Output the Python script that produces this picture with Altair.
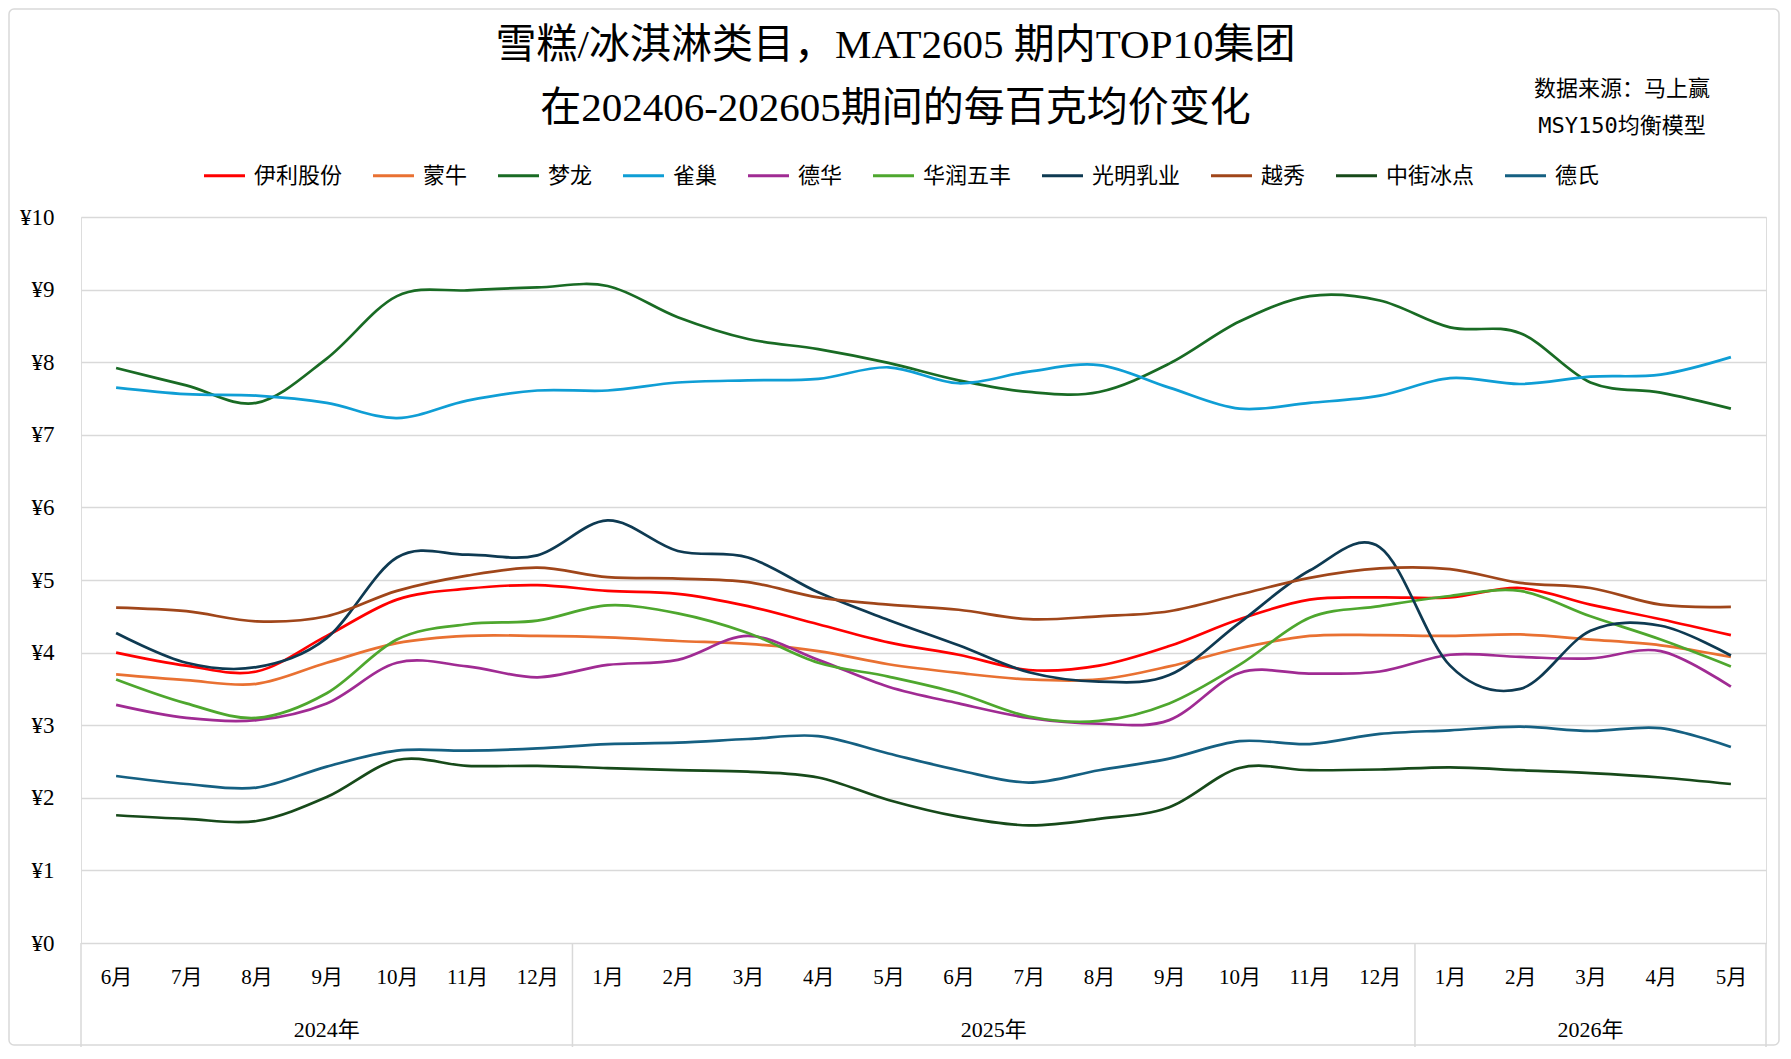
import altair as alt
import pandas as pd

# ---------------- data ----------------
year_names = ["2024年", "2025年", "2026年"]
months_2024 = ["6月", "7月", "8月", "9月", "10月", "11月", "12月"]
months_2025 = ["1月", "2月", "3月", "4月", "5月", "6月", "7月", "8月", "9月", "10月", "11月", "12月"]
months_2026 = ["1月", "2月", "3月", "4月", "5月"]

series_names = ["伊利股份", "蒙牛", "梦龙", "雀巢", "德华", "华润五丰", "光明乳业", "越秀", "中街冰点", "德氏"]
series_colors = ["#FF0000", "#E97132", "#196B24", "#0F9ED5", "#A02B93", "#4EA72E", "#0E3A52", "#A0461A", "#174A1A", "#156082"]

yili = [4.00, 3.82, 3.74, 4.23, 4.73, 4.88, 4.93, 4.85, 4.81, 4.64, 4.39, 4.14, 3.97, 3.76, 3.82, 4.09, 4.46, 4.73, 4.76, 4.76, 4.89, 4.66, 4.46, 4.24]
mengniu = [3.70, 3.62, 3.57, 3.86, 4.13, 4.23, 4.23, 4.21, 4.16, 4.12, 4.02, 3.84, 3.72, 3.63, 3.63, 3.81, 4.06, 4.23, 4.24, 4.23, 4.25, 4.18, 4.10, 3.94]
menglong = [7.92, 7.68, 7.44, 8.05, 8.91, 8.99, 9.03, 9.05, 8.62, 8.32, 8.18, 7.99, 7.75, 7.59, 7.59, 7.98, 8.56, 8.91, 8.85, 8.48, 8.40, 7.72, 7.58, 7.36]
quechao = [7.65, 7.56, 7.54, 7.44, 7.23, 7.47, 7.61, 7.61, 7.72, 7.75, 7.77, 7.93, 7.71, 7.87, 7.96, 7.65, 7.36, 7.44, 7.54, 7.78, 7.70, 7.80, 7.83, 8.07]
dehua = [3.28, 3.10, 3.07, 3.30, 3.86, 3.81, 3.66, 3.83, 3.90, 4.23, 3.90, 3.53, 3.30, 3.10, 3.02, 3.07, 3.72, 3.71, 3.74, 3.97, 3.94, 3.92, 4.02, 3.53]
huarun = [3.63, 3.30, 3.10, 3.44, 4.18, 4.39, 4.44, 4.65, 4.54, 4.27, 3.86, 3.67, 3.44, 3.12, 3.06, 3.30, 3.83, 4.48, 4.64, 4.78, 4.85, 4.50, 4.18, 3.81]
guangming = [4.27, 3.86, 3.80, 4.20, 5.31, 5.35, 5.34, 5.82, 5.40, 5.31, 4.83, 4.45, 4.10, 3.73, 3.60, 3.69, 4.41, 5.13, 5.45, 3.82, 3.50, 4.30, 4.37, 3.96]
yuexiu = [4.62, 4.57, 4.43, 4.50, 4.85, 5.06, 5.17, 5.04, 5.02, 4.97, 4.76, 4.66, 4.59, 4.46, 4.50, 4.57, 4.80, 5.03, 5.16, 5.15, 4.96, 4.89, 4.66, 4.63]
zhongjie = [1.76, 1.71, 1.68, 2.01, 2.52, 2.44, 2.44, 2.41, 2.38, 2.36, 2.28, 1.97, 1.74, 1.62, 1.71, 1.87, 2.41, 2.38, 2.39, 2.42, 2.38, 2.34, 2.28, 2.19]
deshi = [2.30, 2.19, 2.14, 2.43, 2.65, 2.65, 2.68, 2.74, 2.76, 2.81, 2.85, 2.61, 2.38, 2.21, 2.38, 2.54, 2.78, 2.74, 2.88, 2.93, 2.98, 2.92, 2.96, 2.70]

title_lines = ["雪糕/冰淇淋类目，MAT2605 期内TOP10集团", "在202406-202605期间的每百克均价变化"]
source_note = "数据来源：马上赢\nMSY150均衡模型"

# ---------------- tables ----------------
month_groups = [months_2024, months_2025, months_2026]
keys = []
for yname, mlist in zip(year_names, month_groups):
    for m in mlist:
        keys.append(yname + m)

series_values = [yili, mengniu, menglong, quechao, dehua, huarun, guangming, yuexiu, zhongjie, deshi]
rows = []
for name, vals in zip(series_names, series_values):
    for i, (k, v) in enumerate(zip(keys, vals)):
        rows.append({"series": name, "key": k, "idx": i, "value": v})
df = pd.DataFrame(rows)

counts = [len(m) for m in month_groups]
edges = [0]
for c in counts:
    edges.append(edges[-1] + c)
year_df = pd.DataFrame({
    "year": year_names,
    "center": [(edges[i] + edges[i + 1]) / 2 for i in range(len(year_names))],
})
edge_df = pd.DataFrame({"edge": edges})
n_months = len(keys)

SERIF = "Liberation Serif, Noto Sans CJK SC"
LEG = "Noto Sans CJK SC"
W, H = 1685, 726

lines = alt.Chart(df).mark_line(interpolate="cardinal", strokeWidth=2.7).encode(
    x=alt.X("key:O", sort=keys, scale=alt.Scale(type="point", padding=0.5),
            axis=alt.Axis(title=None, labelExpr="split(datum.value, '年')[1]", labelAngle=0,
                          labelFont=SERIF, labelFontSize=21, labelColor="black",
                          labelPadding=23, ticks=False, domain=False, grid=False)),
    y=alt.Y("value:Q", scale=alt.Scale(domain=[0, 10], nice=False),
            axis=alt.Axis(title=None, values=list(range(11)), labelExpr="'¥' + datum.value",
                          labelFont=SERIF, labelFontSize=23, labelColor="black",
                          labelPadding=27, ticks=False, domain=False,
                          grid=True, gridColor="#D9D9D9", gridWidth=1.5)),
    color=alt.Color("series:N", scale=alt.Scale(domain=series_names, range=series_colors),
                    legend=alt.Legend(title=None, orient="none", legendX=121, legendY=-64,
                                      direction="horizontal", columns=10,
                                      symbolType="stroke", symbolSize=1681, symbolStrokeWidth=3.2,
                                      labelFont=LEG, labelFontSize=22, labelColor="black",
                                      columnPadding=23, labelOffset=7, labelLimit=0)),
    order=alt.Order("idx:Q"),
)

years = alt.Chart(year_df).mark_text(font=SERIF, fontSize=22, color="black", baseline="middle").encode(
    x=alt.X("center:Q", scale=alt.Scale(domain=[0, n_months], nice=False, zero=False), axis=None),
    y=alt.value(H + 87),
    text="year:N",
)

seps = alt.Chart(edge_df).mark_rule(color="#D9D9D9", strokeWidth=1.5).encode(
    x=alt.X("edge:Q", scale=alt.Scale(domain=[0, n_months], nice=False, zero=False), axis=None),
    y=alt.value(H),
    y2=alt.value(H + 104),
)

note = alt.Chart(pd.DataFrame({"t": [source_note]})).mark_text(
    font="DejaVu Sans Mono, Noto Sans CJK SC", fontSize=22, color="black",
    lineBreak="\n", lineHeight=37, align="center", baseline="middle",
).encode(x=alt.value(1541), y=alt.value(-128.5), text="t:N")

frame = alt.Chart(pd.DataFrame({"a": [0]})).mark_rect(
    fillOpacity=0, stroke="#D9D9D9", strokeWidth=1.5, cornerRadius=5,
).encode(x=alt.value(-72), x2=alt.value(W + 13), y=alt.value(-208), y2=alt.value(H + 102))

chart = alt.layer(frame, seps, lines, years, note).resolve_scale(x="independent").properties(
    width=W, height=H,
    autosize=alt.AutoSizeParams(type="none"),
    padding={"left": 73, "top": 209, "right": 14, "bottom": 104},
    title=alt.TitleParams(text=title_lines, font=SERIF, fontSize=41, fontWeight="normal",
                          lineHeight=63, anchor="middle", frame="group", dx=-28, offset=-122,
                          color="black"),
).configure_view(stroke=None).configure(background="white")

chart.save("out.html", embed_options={"renderer": "svg", "actions": False})
